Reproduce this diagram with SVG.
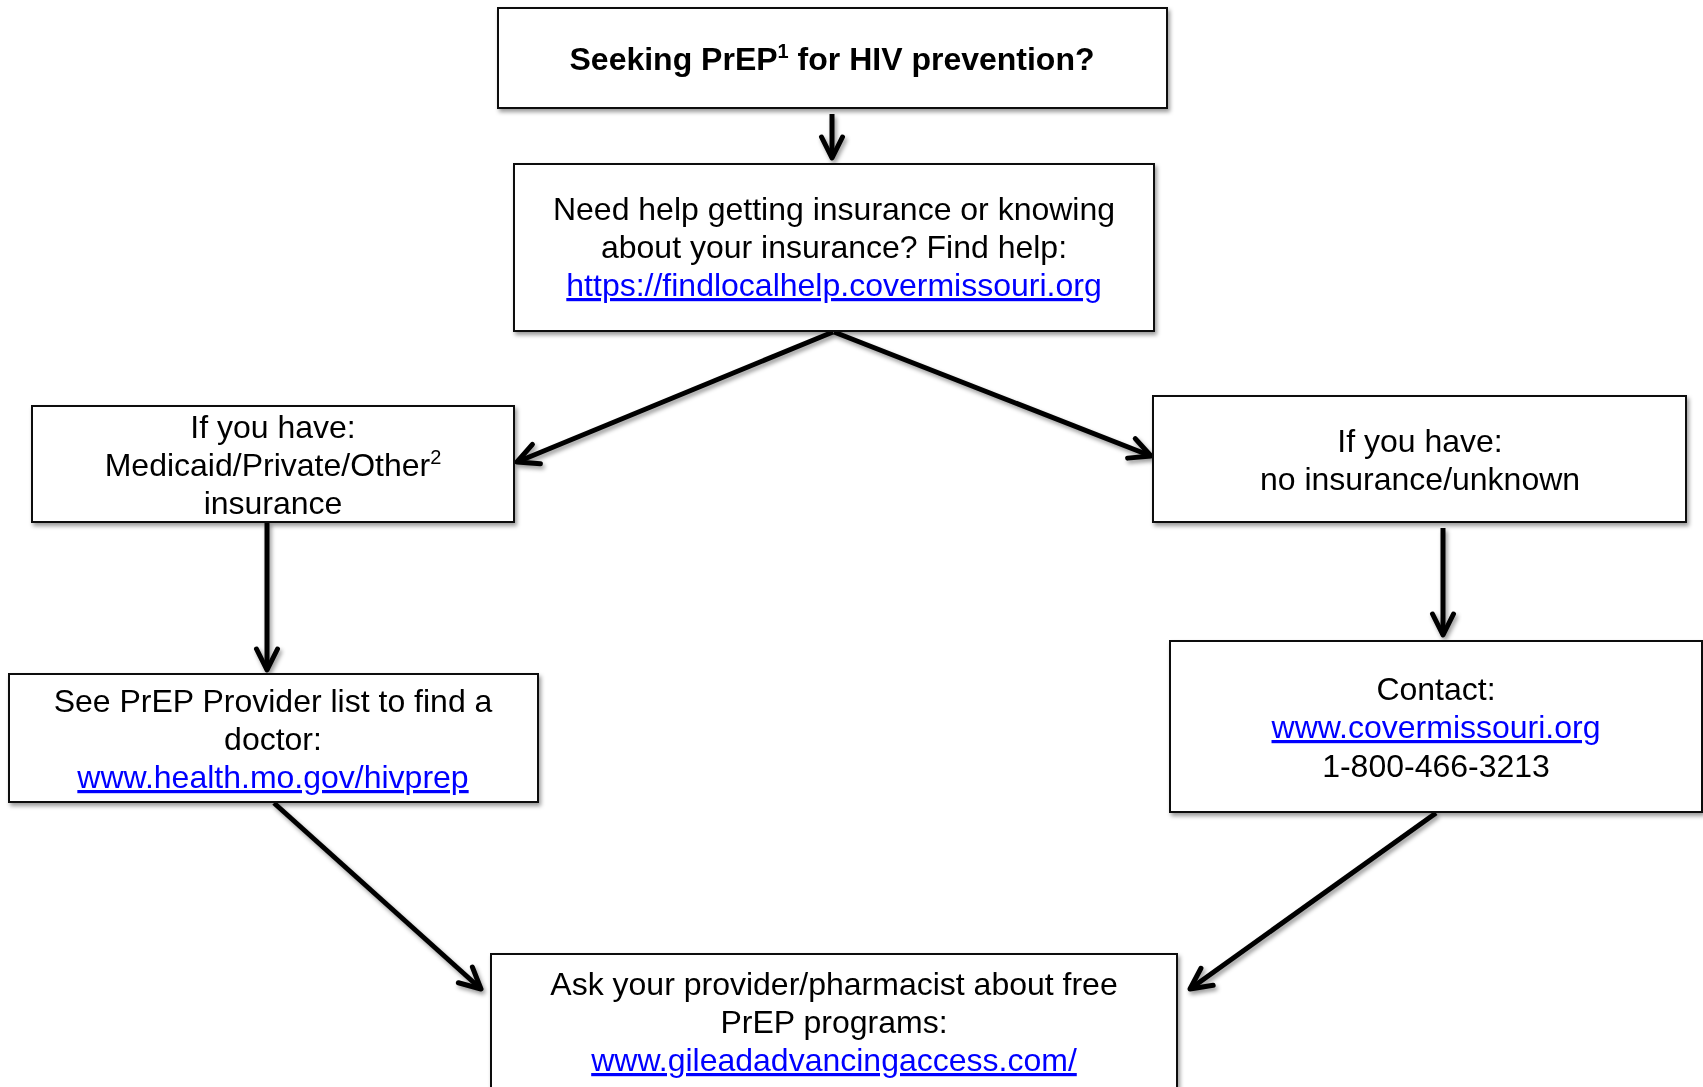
<svg xmlns="http://www.w3.org/2000/svg" width="1703" height="1087" viewBox="0 0 1703 1087">
  <defs>
    <filter id="shadow" x="-10%" y="-10%" width="120%" height="130%">
      <feDropShadow dx="2" dy="3" stdDeviation="2.2" flood-color="#000" flood-opacity="0.4"/>
    </filter>
    <marker id="arrow" markerUnits="userSpaceOnUse" markerWidth="40" markerHeight="40" viewBox="-30 -20 40 40" refX="0" refY="0" orient="auto">
      <path d="M-21,-10.5 L0,0 L-21,10.5" fill="none" stroke="#000" stroke-width="5" stroke-linecap="round" stroke-linejoin="round"/>
    </marker>
  </defs>
  <style>
    .box { fill: #fff; stroke: #111; stroke-width: 2; }
    .t { font-family: "Liberation Sans", Arial, Helvetica, sans-serif; font-size: 32px; fill: #000; text-anchor: middle; }
    .b { font-weight: bold; }
    .link { fill: #0000ff; text-decoration: underline; }
    .conn { fill: none; stroke: #000; stroke-width: 5; stroke-linecap: butt; marker-end: url(#arrow); }
    .node, #connectors { filter: url(#shadow); }
  </style>
  <rect width="1703" height="1087" fill="#fff"/>

  <g id="connectors">
    <line class="conn" x1="832" y1="114" x2="832" y2="158"/>
    <line class="conn" x1="833" y1="332" x2="517" y2="462"/>
    <line class="conn" x1="834" y1="332" x2="1151" y2="456"/>
    <line class="conn" x1="267" y1="522" x2="267" y2="670"/>
    <line class="conn" x1="1443" y1="528" x2="1443" y2="635"/>
    <line class="conn" x1="274" y1="803" x2="481" y2="989"/>
    <line class="conn" x1="1436" y1="813" x2="1190" y2="989"/>
  </g>

  <g id="n1" class="node">
    <rect class="box" x="498" y="8" width="669" height="100"/>
    <text class="t b" x="832" y="70">Seeking PrEP<tspan font-size="20" dy="-12">1</tspan><tspan dy="12"> for HIV prevention?</tspan></text>
  </g>

  <g id="n2" class="node">
    <rect class="box" x="514" y="164" width="640" height="167"/>
    <text class="t" x="834" y="220">Need help getting insurance or knowing</text>
    <text class="t" x="834" y="258">about your insurance? Find help:</text>
    <text class="t link" x="834" y="296">https://findlocalhelp.covermissouri.org</text>
  </g>

  <g id="n3" class="node">
    <rect class="box" x="32" y="406" width="482" height="116"/>
    <text class="t" x="273" y="438">If you have:</text>
    <text class="t" x="273" y="476">Medicaid/Private/Other<tspan font-size="20" dy="-12">2</tspan></text>
    <text class="t" x="273" y="514">insurance</text>
  </g>

  <g id="n4" class="node">
    <rect class="box" x="1153" y="396" width="533" height="126"/>
    <text class="t" x="1420" y="452">If you have:</text>
    <text class="t" x="1420" y="490">no insurance/unknown</text>
  </g>

  <g id="n5" class="node">
    <rect class="box" x="9" y="674" width="529" height="128"/>
    <text class="t" x="273" y="712">See PrEP Provider list to find a</text>
    <text class="t" x="273" y="750">doctor:</text>
    <text class="t link" x="273" y="788">www.health.mo.gov/hivprep</text>
  </g>

  <g id="n6" class="node">
    <rect class="box" x="1170" y="641" width="532" height="171"/>
    <text class="t" x="1436" y="700">Contact:</text>
    <text class="t link" x="1436" y="738">www.covermissouri.org</text>
    <text class="t" x="1436" y="777">1-800-466-3213</text>
  </g>

  <g id="n7" class="node">
    <rect class="box" x="491" y="954" width="686" height="160"/>
    <text class="t" x="834" y="995">Ask your provider/pharmacist about free</text>
    <text class="t" x="834" y="1033">PrEP programs:</text>
    <text class="t link" x="834" y="1071">www.gileadadvancingaccess.com/</text>
  </g>
</svg>
